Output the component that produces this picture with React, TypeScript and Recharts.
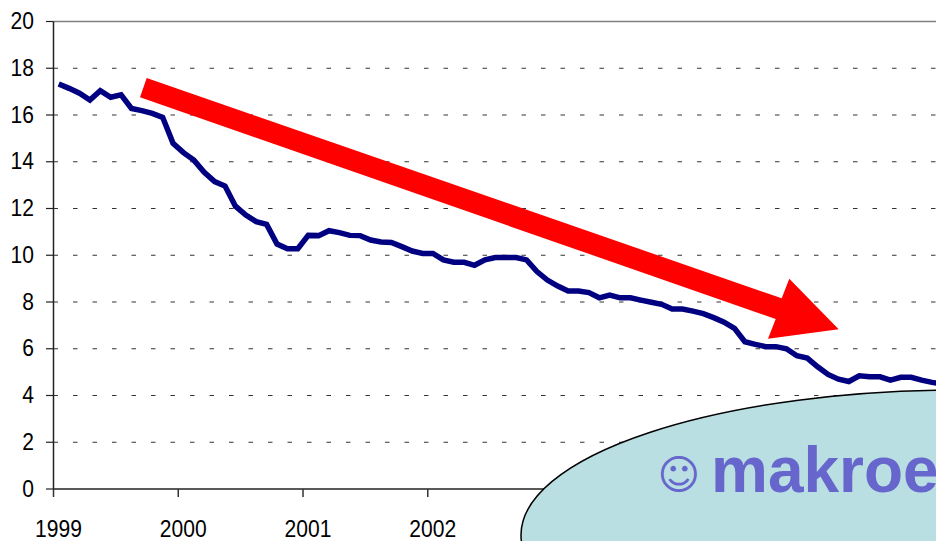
import { CartesianGrid, Line, LineChart, ReferenceLine, XAxis, YAxis } from "recharts";

const monthlyRate = [
  17.33, 17.14, 16.93, 16.64, 17.04, 16.76, 16.86, 16.28, 16.19, 16.07, 15.9, 14.79,
  14.39, 14.07, 13.55, 13.15, 12.96, 12.1, 11.72, 11.44, 11.32, 10.48, 10.28, 10.28,
  10.85, 10.84, 11.05, 10.97, 10.85, 10.84, 10.65, 10.57, 10.55, 10.37, 10.18, 10.08,
  10.08, 9.8, 9.7, 9.7, 9.57, 9.8, 9.9, 9.9, 9.9, 9.8, 9.3, 8.94,
  8.68, 8.47, 8.47, 8.4, 8.18, 8.3, 8.18, 8.18, 8.08, 7.99, 7.9, 7.7,
  7.7, 7.61, 7.5, 7.33, 7.14, 6.87, 6.3, 6.19, 6.09, 6.09, 6.0, 5.7,
  5.6, 5.23, 4.9, 4.7, 4.6, 4.84, 4.8, 4.8, 4.66, 4.78, 4.78, 4.66,
  4.56, 4.5,
];
const yearLabels = ["1999", "2000", "2001", "2002", "2003", "2004", "2005"];
const yearTicks = [0, 12, 24, 36, 48, 60, 72];
const yTicks = [0, 2, 4, 6, 8, 10, 12, 14, 16, 18, 20];
const dashedLevels = [2, 4, 6, 8, 10, 12, 14, 16, 18];

const tableData = monthlyRate.map((rate, i) => ({ month: i + 0.5, rate }));

const FONT = "'Liberation Sans', Arial, sans-serif";

// the labels in the picture are squeezed horizontally, so scale them
function StretchedTick({ x, y, payload, anchor, dx, dy, format }: any) {
  return (
    <text
      transform={`translate(${x + dx},${y + dy}) scale(0.86,1)`}
      textAnchor={anchor}
      fontFamily={FONT}
      fontSize={24.5}
      fill="#000"
    >
      {format(payload.value)}
    </text>
  );
}

export default function App() {
  return (
    <div style={{ position: "absolute", left: 0, top: 0, width: 936, height: 541, overflow: "hidden", background: "#fff" }}>
      <LineChart
        width={958}
        height={541}
        data={tableData}
        margin={{ top: 21.5, right: 0, bottom: 0, left: 0 }}
      >
        <CartesianGrid
          vertical={false}
          horizontalValues={dashedLevels}
          stroke="#333"
          strokeDasharray="4.5 15"
        />
        <ReferenceLine y={20} stroke="#808080" strokeWidth={1.5} />
        <XAxis
          dataKey="month"
          type="number"
          domain={[0, 87]}
          ticks={yearTicks}
          interval={0}
          height={52}
          tickSize={8}
          tickMargin={0}
          tickLine={{ stroke: "#333", strokeWidth: 1.5 }}
          axisLine={{ stroke: "#222", strokeWidth: 1.5 }}
          tick={(props: any) => (
            <StretchedTick
              {...props}
              anchor="middle"
              dx={5}
              dy={40}
              format={(v: number) => yearLabels[yearTicks.indexOf(v)]}
            />
          )}
        />
        <YAxis
          type="number"
          domain={[0, 20]}
          ticks={yTicks}
          interval={0}
          width={53.5}
          tickSize={7.5}
          tickMargin={12}
          tickLine={{ stroke: "#222", strokeWidth: 1.2 }}
          axisLine={{ stroke: "#222", strokeWidth: 1.5 }}
          tick={(props: any) => (
            <StretchedTick {...props} anchor="end" dx={0} dy={7.5} format={(v: number) => v} />
          )}
        />
        <Line
          type="linear"
          dataKey="rate"
          stroke="#000080"
          strokeWidth={5.5}
          dot={false}
          isAnimationActive={false}
        />
      </LineChart>

      {/* arrow and logo sit on top of the chart */}
      <svg width={936} height={541} style={{ position: "absolute", left: 0, top: 0 }}>
        <polygon
          points="146.7,78 781.7,298.3 789.3,278.7 838.7,329.3 768,338.7 775.7,319 140,97.3"
          fill="#ff0000"
        />
        <ellipse cx={960} cy={535} rx={439} ry={145} fill="#b9dfe3" stroke="#000" strokeWidth={1.5} />
        <text x={657.5} y={488.5} fontFamily="'DejaVu Sans'" fontSize={41} fill="#6666cc">☺</text>
        <text x={711} y={492} fontFamily={FONT} fontWeight="bold" fontSize={64} fill="#6666cc">makroe</text>
      </svg>
    </div>
  );
}
